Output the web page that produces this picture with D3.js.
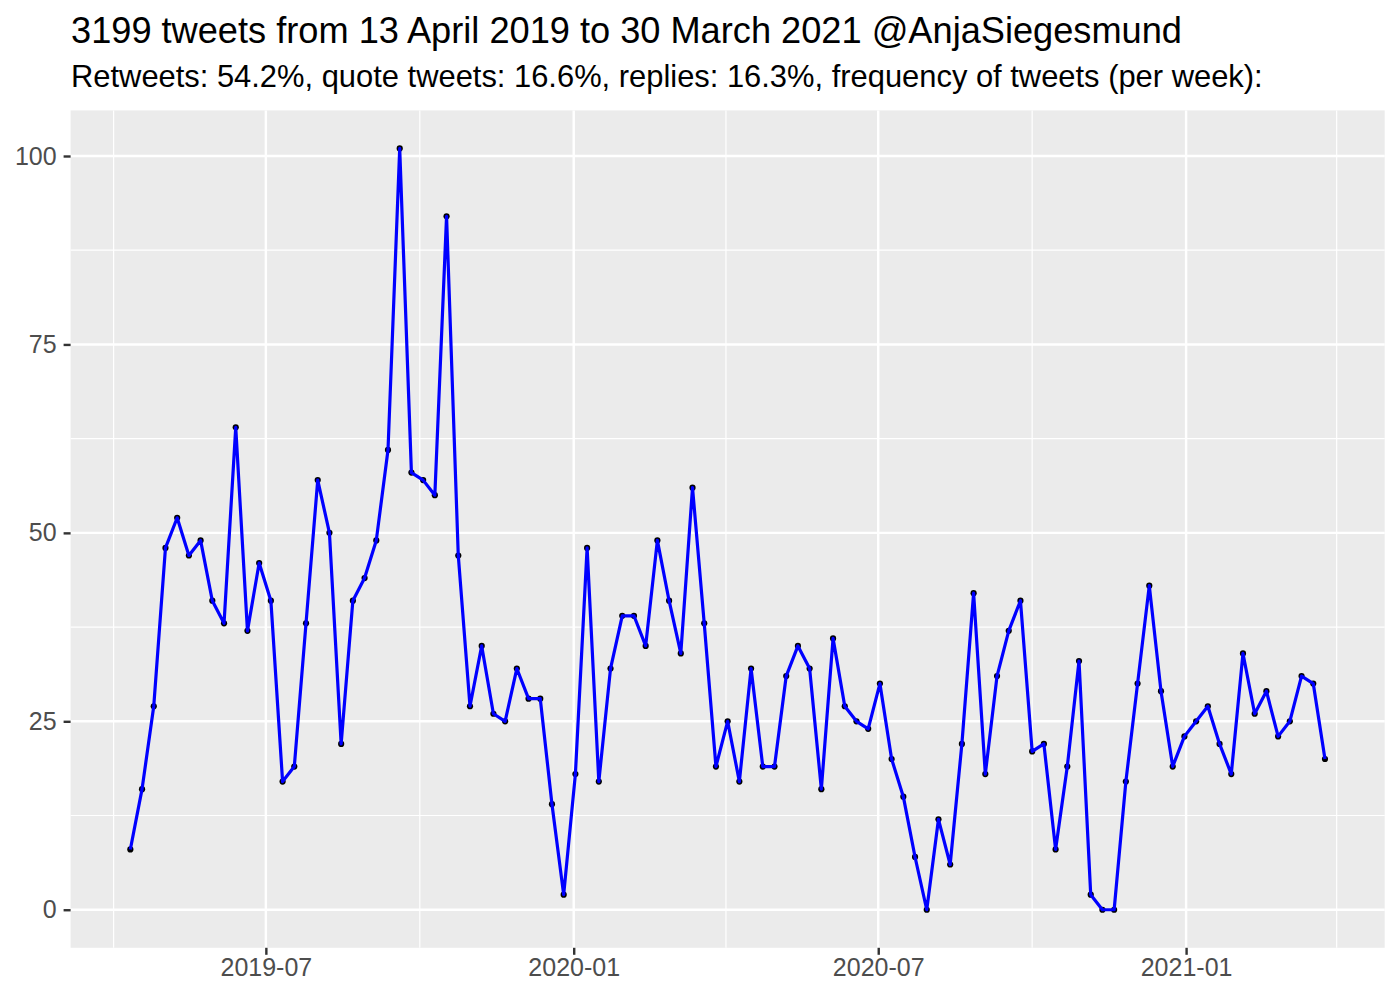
<!DOCTYPE html>
<html>
<head>
<meta charset="utf-8">
<script src="https://cdn.jsdelivr.net/npm/d3@7"></script>
<style>
  html, body { margin: 0; padding: 0; background: #ffffff; }
  svg { display: block; font-family: "Liberation Sans", Arial, Helvetica, sans-serif; }
</style>
</head>
<body>
<svg id="chart" width="1400" height="1000"></svg>
<script>
// ---- data ----
const titleText = "3199 tweets from 13 April 2019 to 30 March 2021 @AnjaSiegesmund";
const subtitleText = "Retweets: 54.2%, quote tweets: 16.6%, replies: 16.3%, frequency of tweets (per week):";
const firstWeek = "2019-04-11"; // first weekly bin
const tweetsPerWeek = [
  8, 16, 27, 48, 52, 47, 49, 41, 38, 64,
  37, 46, 41, 17, 19, 38, 57, 50, 22, 41,
  44, 49, 61, 101, 58, 57, 55, 92, 47, 27,
  35, 26, 25, 32, 28, 28, 14, 2, 18, 48,
  17, 32, 39, 39, 35, 49, 41, 34, 56, 38,
  19, 25, 17, 32, 19, 19, 31, 35, 32, 16,
  36, 27, 25, 24, 30, 20, 15, 7, 0, 12,
  6, 22, 42, 18, 31, 37, 41, 21, 22, 8,
  19, 33, 2, 0, 0, 17, 30, 43, 29, 19,
  23, 25, 27, 22, 18, 34, 26, 29, 23, 25,
  31, 30, 20
];
const xMajorTicks = ["2019-07-01", "2020-01-01", "2020-07-01", "2021-01-01"];
const xMinorTicks = ["2019-04-01", "2019-10-01", "2020-04-01", "2020-10-01", "2021-04-01"];
const yMajorTicks = [0, 25, 50, 75, 100];
const yMinorTicks = [12.5, 37.5, 62.5, 87.5];

// ---- build ----
const parse = d3.utcParse("%Y-%m-%d");
const start = parse(firstWeek);
const data = tweetsPerWeek.map((v, i) => ({ date: d3.utcDay.offset(start, 7 * i), n: v }));

const svg = d3.select("#chart");
const panel = { left: 70.6, right: 1384.7, top: 110.4, bottom: 947.8 };

const dExt = d3.extent(data, d => d.date);
const span = dExt[1] - dExt[0];
const x = d3.scaleUtc()
  .domain([new Date(+dExt[0] - span * 0.05), new Date(+dExt[1] + span * 0.05)])
  .range([panel.left, panel.right]);
const yMax = d3.max(data, d => d.n), yMin = 0;
const ySpan = yMax - yMin;
const y = d3.scaleLinear()
  .domain([yMin - ySpan * 0.05, yMax + ySpan * 0.05])
  .range([panel.bottom, panel.top]);

// panel background
svg.append("rect")
  .attr("x", panel.left).attr("y", panel.top)
  .attr("width", panel.right - panel.left).attr("height", panel.bottom - panel.top)
  .attr("fill", "#EBEBEB");

const grid = svg.append("g");
// minor grid
grid.selectAll(".ymin").data(yMinorTicks).join("line")
  .attr("x1", panel.left).attr("x2", panel.right)
  .attr("y1", d => y(d)).attr("y2", d => y(d))
  .attr("stroke", "#ffffff").attr("stroke-width", 1.2);
grid.selectAll(".xmin").data(xMinorTicks.map(parse)).join("line")
  .attr("y1", panel.top).attr("y2", panel.bottom)
  .attr("x1", d => x(d)).attr("x2", d => x(d))
  .attr("stroke", "#ffffff").attr("stroke-width", 1.2);
// major grid
grid.selectAll(".ymaj").data(yMajorTicks).join("line")
  .attr("x1", panel.left).attr("x2", panel.right)
  .attr("y1", d => y(d)).attr("y2", d => y(d))
  .attr("stroke", "#ffffff").attr("stroke-width", 2.4);
grid.selectAll(".xmaj").data(xMajorTicks.map(parse)).join("line")
  .attr("y1", panel.top).attr("y2", panel.bottom)
  .attr("x1", d => x(d)).attr("x2", d => x(d))
  .attr("stroke", "#ffffff").attr("stroke-width", 2.4);

// points then line
svg.append("g").selectAll("circle").data(data).join("circle")
  .attr("cx", d => x(d.date)).attr("cy", d => y(d.n))
  .attr("r", 3.1).attr("fill", "#000000");
svg.append("path").datum(data)
  .attr("d", d3.line().x(d => x(d.date)).y(d => y(d.n)))
  .attr("fill", "none").attr("stroke", "#0000FF")
  .attr("stroke-width", 3.2).attr("stroke-linejoin", "round");

// axes
const fmt = d3.utcFormat("%Y-%m");
const xAxis = d3.axisBottom(x).tickValues(xMajorTicks.map(parse)).tickFormat(fmt)
  .tickSizeOuter(0).tickSize(7).tickPadding(3);
const gx = svg.append("g").attr("transform", `translate(0,${panel.bottom})`).call(xAxis);
gx.select(".domain").remove();
gx.selectAll(".tick line").attr("stroke", "#333333").attr("stroke-width", 2.4);
gx.selectAll(".tick text").attr("fill", "#4D4D4D").style("font-size", "25px")
  .style("font-family", "'Liberation Sans', Arial, sans-serif");

const yAxis = d3.axisLeft(y).tickValues(yMajorTicks).tickFormat(d3.format("d"))
  .tickSizeOuter(0).tickSize(7).tickPadding(7);
const gy = svg.append("g").attr("transform", `translate(${panel.left},0)`).call(yAxis);
gy.select(".domain").remove();
gy.selectAll(".tick line").attr("stroke", "#333333").attr("stroke-width", 2.4);
gy.selectAll(".tick text").attr("fill", "#4D4D4D").style("font-size", "25px")
  .style("font-family", "'Liberation Sans', Arial, sans-serif");

// titles
svg.append("text").attr("x", 71).attr("y", 43)
  .attr("fill", "#000000").style("font-size", "36.2px").text(titleText);
svg.append("text").attr("x", 71).attr("y", 87)
  .attr("fill", "#000000").style("font-size", "30.9px").text(subtitleText);
</script>
</body>
</html>
